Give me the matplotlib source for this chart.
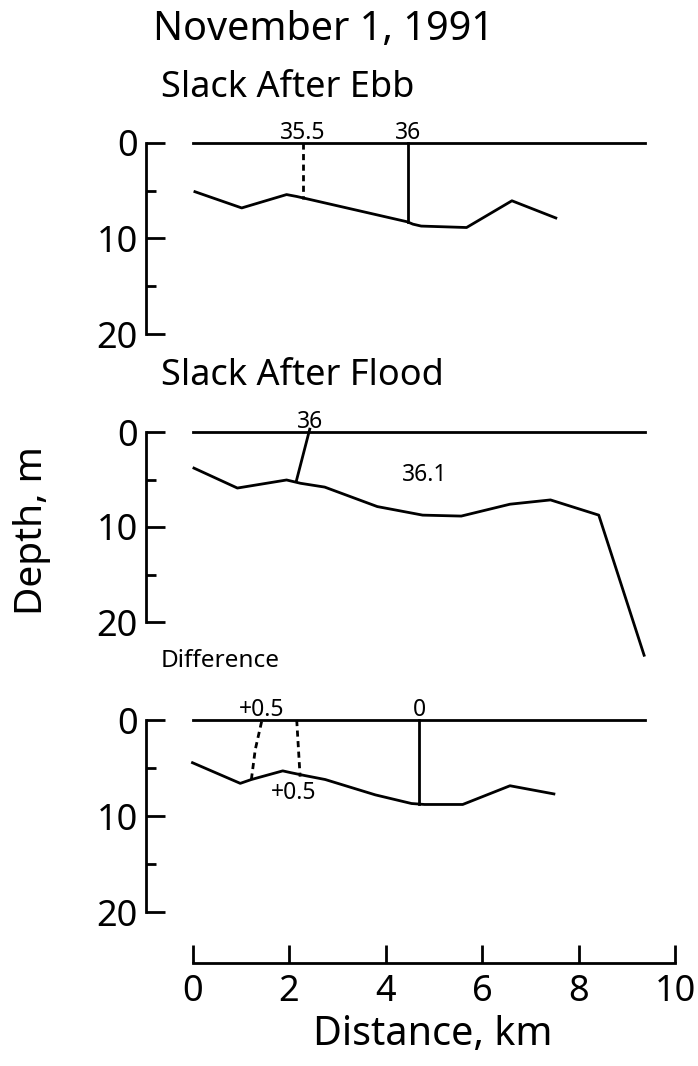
import matplotlib

matplotlib.use("Agg")

import matplotlib.pyplot as plt

plt.rcParams["font.family"] = ["Noto Sans", "DejaVu Sans"]

W, H = 698, 1066

# bottom profiles (distance km, depth m)
EBB_DIST = [0.05, 1.02, 1.95, 2.16, 2.42, 4.45, 4.57, 4.74, 5.68, 6.62, 7.53]
EBB_DEPTH = [5.1, 6.8, 5.4, 5.6, 5.9, 8.25, 8.5, 8.7, 8.85, 6.05, 7.85]

FLOOD_DIST = [0.03, 0.93, 1.95, 2.24, 2.74, 3.83, 4.77, 5.57, 6.58, 7.42, 8.42, 9.36]
FLOOD_DEPTH = [3.8, 5.9, 5.05, 5.4, 5.8, 7.85, 8.75, 8.85, 7.6, 7.15, 8.75, 23.5]

DIFF_DIST = [0.0, 0.99, 1.22, 1.87, 2.05, 2.34, 2.75, 3.79, 4.54, 4.81, 5.6, 6.58, 7.49]
DIFF_DEPTH = [4.45, 6.6, 6.2, 5.3, 5.5, 5.8, 6.2, 7.8, 8.7, 8.8, 8.8, 6.85, 7.7]

SURFACE_END = 9.37

# isohalines: (label, distances, depths, dashed)
EBB_ISO = [
    ("35.5", [2.29, 2.29], [0.0, 5.9], True),
    ("36", [4.47, 4.47], [0.0, 8.25], False),
]
FLOOD_ISO = [
    ("36", [2.15, 2.43], [5.2, -0.3], False),
]
DIFF_ISO = [
    ("+0.5", [1.22, 1.30, 1.44], [6.2, 3.1, 0.0], True),
    ("", [2.16, 2.23], [0.0, 5.9], True),
    ("0", [4.70, 4.70], [0.0, 8.7], False),
]

# salinity notes inside the sections: (text, distance, depth)
FLOOD_NOTES = [("36.1", 4.81, 4.5)]
DIFF_NOTES = [("+0.5", 2.09, 7.6)]

PANELS = [
    ("Slack After Ebb", 97, 143, 334, EBB_DIST, EBB_DEPTH, EBB_ISO, []),
    ("Slack After Flood", 385, 432, 622, FLOOD_DIST, FLOOD_DEPTH, FLOOD_ISO, FLOOD_NOTES),
    ("Difference", 667, 720, 912, DIFF_DIST, DIFF_DEPTH, DIFF_ISO, DIFF_NOTES),
]

X_TICKS = [0, 2, 4, 6, 8, 10]
Y_MAJOR = [0, 10, 20]
Y_MINOR = [5, 15]

LW = 2.0
SPINE_X = 146
X0_PX, X10_PX = 192.5, 675.0


def fig_text(fig, x, y, s, **kw):
    fig.text(x / W, 1 - y / H, s, **kw)


def draw_panel(fig, top, bottom, dist, depth, isolines, notes):
    px_per_km = (X10_PX - X0_PX) / 10
    xmin = -(X0_PX - SPINE_X) / px_per_km
    ax = fig.add_axes([SPINE_X / W, 1 - bottom / H, (X10_PX - SPINE_X) / W, (bottom - top) / H])
    ax.set_xlim(xmin, 10)
    ax.set_ylim(20, 0)
    for side in ("top", "right", "bottom"):
        ax.spines[side].set_visible(False)
    ax.spines["left"].set_linewidth(LW)
    ax.set_xticks([])
    ax.set_yticks(Y_MAJOR)
    ax.set_yticks(Y_MINOR, minor=True)
    ax.tick_params(axis="y", which="major", direction="in", length=14, width=LW, labelsize=26, pad=6)
    ax.tick_params(axis="y", which="minor", direction="in", length=7, width=LW)

    ax.plot([0, SURFACE_END], [0, 0], color="black", lw=LW, clip_on=False)
    ax.plot(dist, depth, color="black", lw=LW, clip_on=False, solid_joinstyle="round")

    for label, xs, ds, dashed in isolines:
        ls = (0, (2.2, 1.6)) if dashed else "-"
        ax.plot(xs, ds, color="black", lw=LW, linestyle=ls, clip_on=False)
        if label:
            top_x = xs[ds.index(min(ds))]
            ax.text(top_x, -0.45, label, ha="center", va="baseline", fontsize=16.5, clip_on=False)

    for label, x, d in notes:
        ax.text(x, d, label, ha="center", va="center", fontsize=16.5)
    return ax


def main():
    fig = plt.figure(figsize=(W / 100, H / 100), dpi=100)

    fig_text(fig, 153, 40, "November 1, 1991", ha="left", va="baseline", fontsize=28.5)

    for title, title_y, top, bottom, dist, depth, isolines, notes in PANELS:
        size = 17.5 if title == "Difference" else 26
        fig_text(fig, 161, title_y, title, ha="left", va="baseline", fontsize=size)
        draw_panel(fig, top, bottom, dist, depth, isolines, notes)

    fig_text(fig, 32, 531, "Depth, m", ha="center", va="center", rotation=90, fontsize=28)

    # distance axis
    axb = fig.add_axes([X0_PX / W, 1 - 963 / H, (X10_PX - X0_PX) / W, 0.02])
    axb.set_xlim(0, 10)
    axb.set_ylim(0, 1)
    for side in ("top", "right", "left"):
        axb.spines[side].set_visible(False)
    axb.spines["bottom"].set_linewidth(LW)
    axb.set_yticks([])
    axb.set_xticks(X_TICKS)
    axb.tick_params(axis="x", direction="in", length=13, width=LW, labelsize=26, pad=8)
    axb.patch.set_visible(False)

    fig_text(fig, 433, 1045, "Distance, km", ha="center", va="baseline", fontsize=28.5)

    fig.savefig("out.png", dpi=100)
    plt.close(fig)


if __name__ == "__main__":
    main()
